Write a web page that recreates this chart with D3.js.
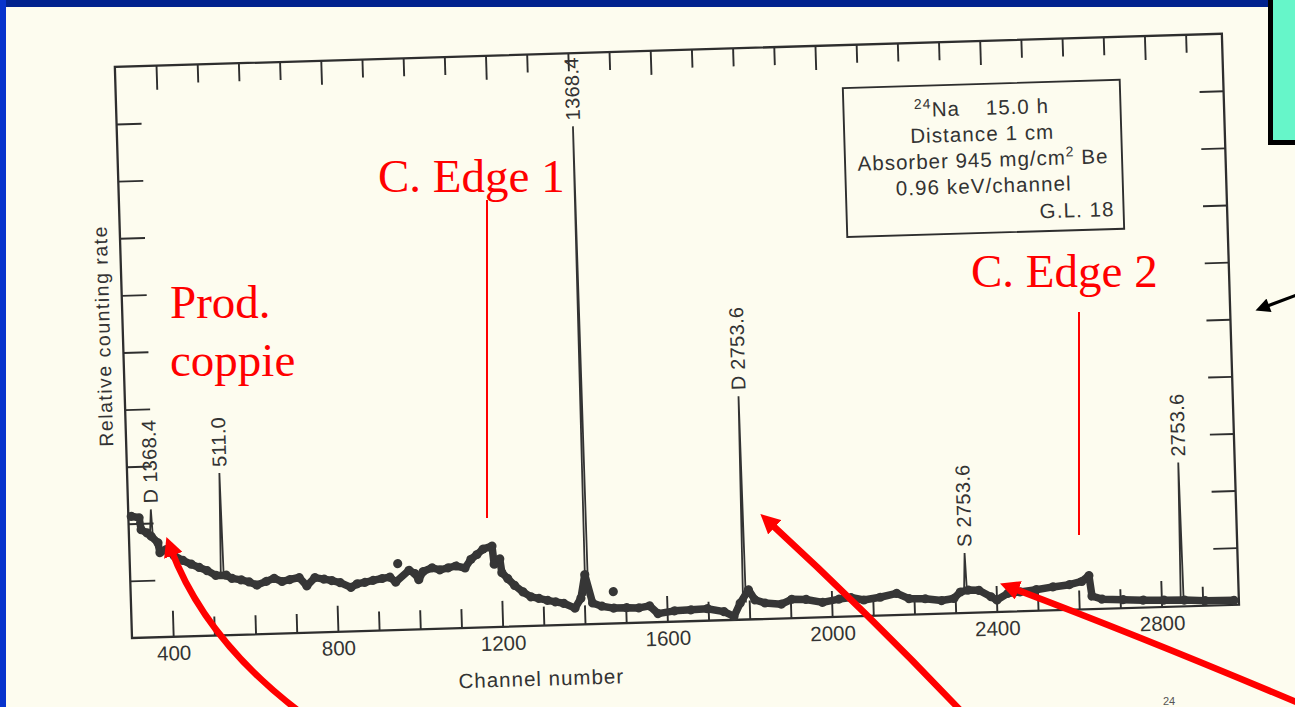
<!DOCTYPE html>
<html><head><meta charset="utf-8">
<script src="https://cdn.jsdelivr.net/npm/d3@7"></script>
<style>
html,body{margin:0;padding:0;background:#fdfcef;overflow:hidden}
svg{display:block}
</style></head><body>
<svg id="chart" width="1295" height="707"></svg>
<script>
// ---------------- data ----------------
const contChannel = [307,326,330,344,354,370,374,389,408,429,449,468,487,508,533,547,569,588,607,630,649,668,687,710,728,748,770,789,809,835,850,869,889,911,930,944,977,991,1000,1011,1033,1052,1072,1091,1113,1128,1143,1158,1180,1184,1198,1202,1216,1232,1252,1271,1290,1311,1330,1350,1377,1392,1403,1420,1442,1471,1502,1532,1558,1578,1618,1658,1698,1738,1762,1778,1799,1814,1838,1878,1903,1938,1978,2018,2047,2078,2118,2158,2188,2227,2267,2297,2313,2332,2358,2387,2401,2428,2458,2497,2538,2578,2608,2626,2632,2656,2707,2756,2806,2856,2906,2976];
const contValue = [2.13,2.10,1.89,1.83,1.77,1.65,1.48,1.53,1.42,1.33,1.26,1.20,1.14,1.05,1.05,0.99,0.96,0.92,0.86,0.92,0.97,0.91,0.94,0.97,0.82,0.96,0.93,0.90,0.86,0.77,0.83,0.85,0.88,0.91,0.93,0.84,1.04,0.98,0.87,1.01,1.07,1.03,1.06,1.09,1.05,1.20,1.28,1.37,1.42,1.10,1.19,0.95,0.84,0.72,0.60,0.51,0.48,0.44,0.41,0.38,0.29,0.46,0.87,0.37,0.31,0.27,0.27,0.26,0.29,0.15,0.19,0.20,0.21,0.15,0.06,0.29,0.52,0.34,0.28,0.25,0.33,0.32,0.26,0.31,0.33,0.28,0.32,0.38,0.28,0.27,0.23,0.26,0.37,0.40,0.39,0.27,0.21,0.32,0.34,0.37,0.41,0.44,0.49,0.59,0.23,0.17,0.15,0.13,0.12,0.11,0.09,0.08];
const strayChannel = [950, 1471];
const strayValue = [1.16, 0.56];

const peakChannel = [355, 524, 1407, 1789, 2326, 2851];
const peakValue   = [2.24, 2.84, 8.72, 3.91, 1.05, 2.52];
const peakBase    = [1.77, 1.03, 0.50, 0.30, 0.38, 0.11];
const peakLabel   = ["D 1368.4", "511.0", "1368.4", "D 2753.6", "S 2753.6", "2753.6"];

const xMajorTicks = [400, 800, 1200, 1600, 2000, 2400, 2800];
const xMinorTicks = [500, 600, 700, 900, 1000, 1100, 1300, 1400, 1500, 1700, 1800, 1900, 2100, 2200, 2300, 2500, 2600, 2700, 2900];
const yTicks = [1, 2, 3, 4, 5, 6, 7, 8, 9];

const xTitle = "Channel number";
const yTitle = "Relative counting rate";
const infoLines = ["Distance 1 cm", "0.96 keV/channel"];

// ---------------- layout ----------------
const W = 1107.5, H = 571.3;
const ink = "#2e2e2e";
const svg = d3.select("#chart");

svg.append("rect").attr("width", 1295).attr("height", 707).attr("fill", "#fdfcef");

const g = svg.append("g")
  .attr("transform", `translate(132,638) rotate(-1.72) translate(0,${-H})`);

const x = d3.scaleLinear().domain([300, 2988]).range([0, W]);
const y = d3.scaleLinear().domain([0, 10]).range([H, 0]);

function tidy(sel) {
  sel.select(".domain").remove();
  sel.selectAll(".tick line").attr("stroke", ink).attr("stroke-width", 1.9);
  sel.selectAll(".tick text")
    .attr("fill", "#333").attr("font-family", "Liberation Sans, Arial, sans-serif")
    .attr("font-size", 20.5);
}
// bottom
g.append("g").attr("transform", `translate(0,${H})`)
  .call(d3.axisBottom(x).tickValues(xMinorTicks).tickSize(-19).tickFormat("")).call(tidy);
g.append("g").attr("transform", `translate(0,${H})`)
  .call(d3.axisBottom(x).tickValues(xMajorTicks).tickSize(-26).tickPadding(9).tickFormat(d3.format("d"))).call(tidy);
// top
g.append("g")
  .call(d3.axisTop(x).tickValues(xMinorTicks).tickSize(-18).tickFormat("")).call(tidy);
g.append("g")
  .call(d3.axisTop(x).tickValues(xMajorTicks).tickSize(-24).tickFormat("")).call(tidy);
// left / right
g.append("g").call(d3.axisLeft(y).tickValues(yTicks).tickSize(-25).tickFormat("")).call(tidy);
g.append("g").attr("transform", `translate(${W},0)`)
  .call(d3.axisRight(y).tickValues(yTicks).tickSize(-24).tickFormat("")).call(tidy);

// frame
g.append("rect").attr("width", W).attr("height", H)
  .attr("fill", "none").attr("stroke", ink).attr("stroke-width", 2.3);

// axis titles
g.append("text").attr("x", x(1290)).attr("y", H + 60)
  .attr("text-anchor", "middle").attr("fill", "#333")
  .attr("font-family", "Liberation Sans, Arial, sans-serif").attr("font-size", 20.5)
  .attr("letter-spacing", 1).text(xTitle);
g.append("text").attr("transform", `translate(-13,${y(5.3)}) rotate(-90)`)
  .attr("text-anchor", "middle").attr("fill", "#333")
  .attr("font-family", "Liberation Sans, Arial, sans-serif").attr("font-size", 19.5)
  .attr("letter-spacing", 1.5).text(yTitle);

// peaks
const peaks = peakChannel.map((c, i) => ({c, v: peakValue[i], b: peakBase[i], label: peakLabel[i]}));
const line = d3.line().x(d => x(d[0])).y(d => y(d[1]));
g.selectAll(".peak").data(peaks).join("path")
  .attr("d", d => line([[d.c - 4, d.b], [d.c, d.v], [d.c + 3, d.b]]))
  .attr("fill", "none").attr("stroke", "#333").attr("stroke-width", 1.8);
g.selectAll(".plabel").data(peaks).join("text")
  .attr("transform", d => `translate(${x(d.c)},${y(d.v) - 6}) rotate(-90)`)
  .attr("dy", "0.36em").attr("fill", "#333")
  .attr("font-family", "Liberation Sans, Arial, sans-serif").attr("font-size", 20)
  .attr("letter-spacing", 0.3).text(d => d.label);

// continuum
const cont = contChannel.map((c, i) => [c, contValue[i]]);
g.append("path").attr("d", line(cont)).attr("fill", "none")
  .attr("stroke", "#363636").attr("stroke-width", 7.5)
  .attr("stroke-linejoin", "round").attr("stroke-linecap", "round");
g.selectAll(".dot").data(cont).join("circle")
  .attr("cx", d => x(d[0])).attr("cy", d => y(d[1])).attr("r", 4.6).attr("fill", "#363636");
g.selectAll(".stray").data(strayChannel.map((c, i) => [c, strayValue[i]])).join("circle")
  .attr("cx", d => x(d[0])).attr("cy", d => y(d[1])).attr("r", 4.6).attr("fill", "#363636");

// info box
const box = g.append("g").attr("transform", "translate(727,43)")
  .attr("font-family", "Liberation Sans, Arial, sans-serif").attr("fill", "#333");
box.append("rect").attr("width", 277).attr("height", 149).attr("fill", "none")
  .attr("stroke", ink).attr("stroke-width", 1.9);
const t1 = box.append("text").attr("x", 138).attr("y", 31).attr("text-anchor", "middle")
  .attr("font-size", 20.5).attr("letter-spacing", 1).attr("fill", "#333");
t1.append("tspan").attr("font-size", 14).attr("dy", -8).text("24");
t1.append("tspan").attr("dy", 8).text("Na");
t1.append("tspan").attr("dx", 26).text("15.0 h");
box.append("text").attr("x", 138).attr("y", 57).attr("text-anchor", "middle")
  .attr("font-size", 20.5).attr("letter-spacing", 1.1).attr("fill", "#333").text(infoLines[0]);
const t3 = box.append("text").attr("x", 138).attr("y", 83).attr("text-anchor", "middle")
  .attr("font-size", 20.5).attr("letter-spacing", 1).attr("fill", "#333");
t3.append("tspan").text("Absorber 945 mg/cm");
t3.append("tspan").attr("font-size", 14).attr("dy", -8).text("2");
t3.append("tspan").attr("dy", 8).text(" Be");
box.append("text").attr("x", 138).attr("y", 109).attr("text-anchor", "middle")
  .attr("font-size", 20.5).attr("letter-spacing", 1.1).attr("fill", "#333").text(infoLines[1]);
box.append("text").attr("x", 268).attr("y", 136).attr("text-anchor", "end")
  .attr("font-size", 20.5).attr("letter-spacing", 1.1).attr("fill", "#333").text("G.L. 18");

// ---------------- slide overlay ----------------
svg.append("rect").attr("x", 0).attr("y", 0).attr("width", 1295).attr("height", 7).attr("fill", "#01228e");
svg.append("rect").attr("x", 0).attr("y", 0).attr("width", 6).attr("height", 707).attr("fill", "#0733cc");
svg.append("rect").attr("x", 1270.5).attr("y", -6).attr("width", 40).attr("height", 148.5)
  .attr("fill", "#66f6c9").attr("stroke", "#000").attr("stroke-width", 5);
svg.append("text").attr("x", 1163).attr("y", 705).attr("font-size", 11)
  .attr("font-family", "Liberation Sans, Arial, sans-serif").attr("fill", "#555").text("24");

const defs = svg.append("defs");
defs.append("marker").attr("id", "headR").attr("viewBox", "0 0 10 10")
  .attr("refX", 4).attr("refY", 5).attr("markerWidth", 3).attr("markerHeight", 3)
  .attr("orient", "auto").append("path").attr("d", "M0,0 L10,5 L0,10 z").attr("fill", "#ff0000");
defs.append("marker").attr("id", "headK").attr("viewBox", "0 0 10 10")
  .attr("refX", 4).attr("refY", 5).attr("markerWidth", 5).attr("markerHeight", 4.5)
  .attr("orient", "auto").append("path").attr("d", "M0,0 L10,5 L0,10 z").attr("fill", "#000");

const red = "#ff0000";
const serif = "Liberation Serif, Times New Roman, serif";
const ov = svg.append("g").attr("font-family", serif).attr("fill", red).attr("font-size", 47);
ov.append("text").attr("x", 378).attr("y", 192).text("C. Edge 1");
ov.append("text").attr("x", 170).attr("y", 318).text("Prod.");
ov.append("text").attr("x", 170).attr("y", 376).text("coppie");
ov.append("text").attr("x", 971).attr("y", 287).text("C. Edge 2");

svg.append("line").attr("x1", 487).attr("x2", 487).attr("y1", 200).attr("y2", 518)
  .attr("stroke", red).attr("stroke-width", 2);
svg.append("line").attr("x1", 1079).attr("x2", 1079).attr("y1", 312).attr("y2", 535)
  .attr("stroke", red).attr("stroke-width", 2);

const arrows = [
  "M300,712 Q205,640 170.5,548",
  "M962,712 Q870,615 769,522",
  "M1315,710 Q1150,640 1011,587.6"
];
svg.selectAll(".arr").data(arrows).join("path").attr("d", d => d)
  .attr("fill", "none").attr("stroke", red).attr("stroke-width", 6.5)
  .attr("marker-end", "url(#headR)");
svg.append("path").attr("d", "M1302,293 L1263.6,307.4").attr("fill", "none")
  .attr("stroke", "#000").attr("stroke-width", 3.2).attr("marker-end", "url(#headK)");
</script>
</body></html>
